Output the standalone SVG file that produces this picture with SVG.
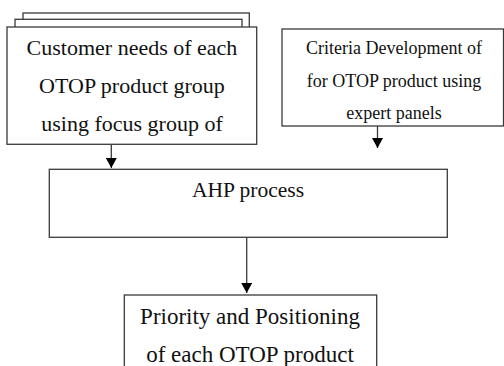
<svg xmlns="http://www.w3.org/2000/svg" width="504" height="366" viewBox="0 0 504 366">
  <style>
    .box { fill: #ffffff; stroke: #3a3a3a; stroke-width: 1.3; }
    .link { stroke: #3a3a3a; stroke-width: 1.3; fill: none; marker-end: url(#arrow); }
    text { font-family: "Liberation Serif", "Times New Roman", serif; fill: #111111; text-anchor: middle; }
    .big { font-size: 22px; }
    .small { font-size: 18px; }
  </style>
  <defs>
    <!-- filled triangular head, drawn along +x so orient="auto" turns it with the line -->
    <marker id="arrow" markerUnits="userSpaceOnUse" markerWidth="10" markerHeight="11" viewBox="0 0 10 11" refX="10" refY="5.5" orient="auto">
      <path d="M0,0 L10,5.5 L0,11 Z" fill="#000000"/>
    </marker>
  </defs>
  <rect width="504" height="366" fill="#ffffff"/>

  <!-- stacked document: customer needs -->
  <g id="customer-needs">
    <rect class="box" x="23" y="13" width="226.3" height="30"/>
    <rect class="box" x="15" y="19.3" width="227" height="30"/>
    <rect class="box" x="7" y="27" width="249.7" height="117.3"/>
    <text class="big" x="132" y="55">Customer needs of each</text>
    <text class="big" x="132" y="93">OTOP product group</text>
    <text class="big" x="132" y="131">using focus group of</text>
  </g>

  <!-- criteria development -->
  <g id="criteria">
    <rect class="box" x="282" y="29" width="221.5" height="97"/>
    <text class="small" x="394" y="54">Criteria Development of</text>
    <text class="small" x="394" y="87">for OTOP product using</text>
    <text class="small" x="394" y="119">expert panels</text>
  </g>

  <!-- AHP -->
  <g id="ahp">
    <rect class="box" x="49.3" y="169.3" width="398" height="68"/>
    <text class="big" x="248" y="197" style="font-size:21.5px">AHP process</text>
  </g>

  <!-- result -->
  <g id="priority">
    <rect class="box" x="124.3" y="295" width="252.4" height="80"/>
    <text class="big" x="250" y="324" style="font-size:23px">Priority and Positioning</text>
    <text class="big" x="250" y="362" style="font-size:23px">of each OTOP product</text>
  </g>

  <!-- connectors -->
  <g id="connectors">
    <line class="link" x1="111.3" y1="144.3" x2="111.3" y2="168"/>
    <line class="link" x1="377.5" y1="126" x2="377.5" y2="148"/>
    <line class="link" x1="246.7" y1="237.3" x2="246.7" y2="293"/>
  </g>
</svg>
